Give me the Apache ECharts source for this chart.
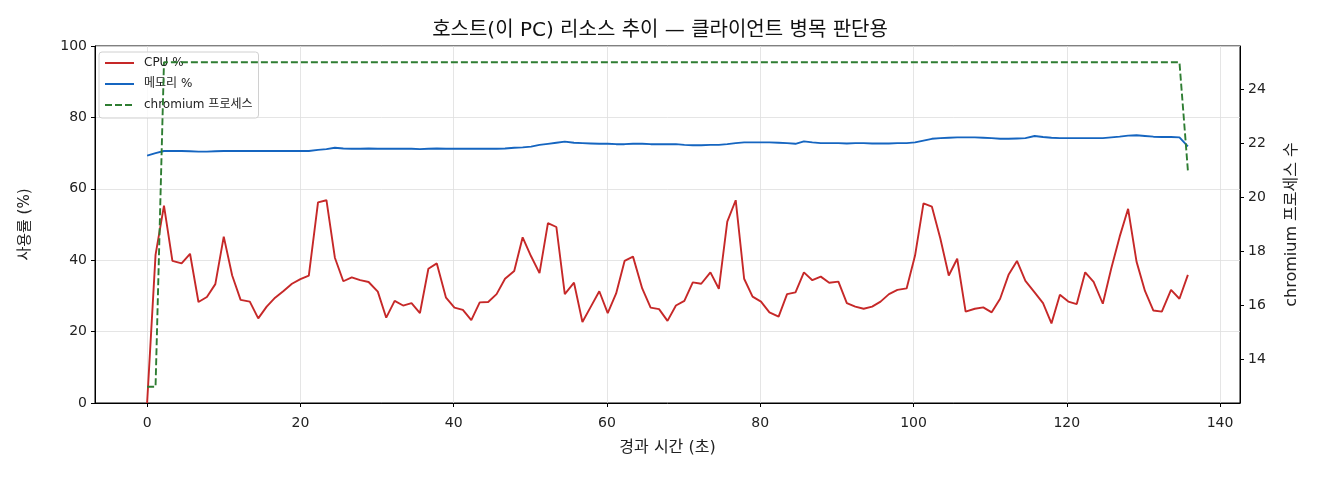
<!DOCTYPE html>
<html>
<head>
<meta charset="utf-8">
<script src="https://cdn.jsdelivr.net/npm/echarts@6/dist/echarts.min.js"></script>
<style>
    html, body { margin: 0; padding: 0; background: #fff; }
    #container { width: 1320px; height: 480px; }
</style>
</head>
<body>
<div id="container"></div>
<script>
// 경과 시간 (초)
const times = [
    0, 1.1, 2.2, 3.3, 4.5, 5.6, 6.7, 7.8, 8.9, 10.0, 11.1, 12.2, 13.4, 14.5, 15.6, 16.7, 17.8, 18.9, 20.0, 21.1,
    22.3, 23.4, 24.5, 25.6, 26.7, 27.8, 28.9, 30.1, 31.2, 32.3, 33.4, 34.5, 35.6, 36.7, 37.8, 39.0, 40.1, 41.2, 42.3, 43.4,
    44.5, 45.6, 46.7, 47.9, 49.0, 50.1, 51.2, 52.3, 53.4, 54.5, 55.7, 56.8, 57.9, 59.0, 60.1, 61.2, 62.3, 63.4, 64.6, 65.7,
    66.8, 67.9, 69.0, 70.1, 71.2, 72.3, 73.5, 74.6, 75.7, 76.8, 77.9, 79.0, 80.1, 81.2, 82.4, 83.5, 84.6, 85.7, 86.8, 87.9,
    89.0, 90.2, 91.3, 92.4, 93.5, 94.6, 95.7, 96.8, 97.9, 99.1, 100.2, 101.3, 102.4, 103.5, 104.6, 105.7, 106.8, 108.0, 109.1, 110.2,
    111.3, 112.4, 113.5, 114.6, 115.8, 116.9, 118.0, 119.1, 120.2, 121.3, 122.4, 123.5, 124.7, 125.8, 126.9, 128.0, 129.1, 130.2, 131.3, 132.4,
    133.6, 134.7, 135.8
];
const cpu = [
    0, 41.5, 55.3, 39.8, 39.1, 41.8, 28.3, 29.7, 33.3, 46.6, 35.7, 28.9, 28.4, 23.7, 27.0, 29.5, 31.4, 33.4, 34.7, 35.7,
    56.2, 56.8, 40.7, 34.1, 35.2, 34.4, 33.9, 31.2, 23.9, 28.6, 27.3, 28.0, 25.2, 37.6, 39.1, 29.5, 26.7, 26.1, 23.2, 28.2,
    28.3, 30.5, 34.8, 37.0, 46.4, 41.1, 36.4, 50.4, 49.3, 30.5, 33.7, 22.7, 27.0, 31.3, 25.2, 30.7, 39.8, 41.0, 32.1, 26.7,
    26.3, 23.0, 27.3, 28.6, 33.8, 33.4, 36.6, 32.0, 50.8, 56.8, 34.8, 29.8, 28.4, 25.4, 24.2, 30.5, 31.0, 36.6, 34.4, 35.4,
    33.7, 34.0, 28.0, 27.0, 26.4, 27.0, 28.4, 30.5, 31.7, 32.1, 41.3, 55.9, 55.0, 46.1, 35.7, 40.4, 25.6, 26.4, 26.8, 25.4,
    29.2, 35.9, 39.8, 34.2, 31.0, 28.0, 22.3, 30.3, 28.4, 27.7, 36.6, 33.9, 27.8, 37.7, 46.6, 54.4, 39.6, 31.4, 25.9, 25.6,
    31.7, 29.2, 35.9
];
const memory = [
    69.3, 70.0, 70.6, 70.6, 70.6, 70.5, 70.4, 70.4, 70.5, 70.6, 70.6, 70.6, 70.6, 70.6, 70.6, 70.6, 70.6, 70.6, 70.6, 70.6,
    70.9, 71.1, 71.5, 71.3, 71.2, 71.2, 71.3, 71.2, 71.2, 71.2, 71.2, 71.2, 71.1, 71.2, 71.3, 71.2, 71.2, 71.2, 71.2, 71.2,
    71.2, 71.2, 71.3, 71.5, 71.6, 71.8, 72.3, 72.6, 72.9, 73.2, 72.9, 72.8, 72.7, 72.6, 72.6, 72.5, 72.5, 72.6, 72.6, 72.5,
    72.5, 72.5, 72.5, 72.3, 72.2, 72.2, 72.3, 72.3, 72.5, 72.8, 73.0, 73.0, 73.0, 73.0, 72.9, 72.8, 72.6, 73.3, 73.0, 72.8,
    72.8, 72.8, 72.7, 72.8, 72.8, 72.7, 72.7, 72.7, 72.8, 72.8, 73.0, 73.5, 74.0, 74.2, 74.3, 74.4, 74.4, 74.4, 74.3, 74.2,
    74.0, 74.0, 74.1, 74.2, 74.8, 74.5, 74.3, 74.2, 74.2, 74.2, 74.2, 74.2, 74.2, 74.4, 74.6, 74.9, 75.0, 74.8, 74.6, 74.5,
    74.5, 74.4, 71.9
];
const chromium = [
    13, 13, 25, 25, 25, 25, 25, 25, 25, 25, 25, 25, 25, 25, 25, 25, 25, 25, 25, 25,
    25, 25, 25, 25, 25, 25, 25, 25, 25, 25, 25, 25, 25, 25, 25, 25, 25, 25, 25, 25,
    25, 25, 25, 25, 25, 25, 25, 25, 25, 25, 25, 25, 25, 25, 25, 25, 25, 25, 25, 25,
    25, 25, 25, 25, 25, 25, 25, 25, 25, 25, 25, 25, 25, 25, 25, 25, 25, 25, 25, 25,
    25, 25, 25, 25, 25, 25, 25, 25, 25, 25, 25, 25, 25, 25, 25, 25, 25, 25, 25, 25,
    25, 25, 25, 25, 25, 25, 25, 25, 25, 25, 25, 25, 25, 25, 25, 25, 25, 25, 25, 25,
    25, 25, 21
];
const xTicks = [0, 20, 40, 60, 80, 100, 120, 140];
const rightTicks = [14, 16, 18, 20, 22, 24];

// 라틴 문자는 DejaVu, 한글은 Noto CJK 로 대체됨
const FONT = '"DejaVu Sans", "Noto Sans CJK KR", sans-serif';
const GRID_LINE = { show: true, lineStyle: { color: '#dedede', width: 0.8 } };
const AXIS_LINE = { show: true, onZero: false, lineStyle: { color: '#000' } };

function pairs(ys) {
    return times.map((t, i) => [t, ys[i]]);
}

const chart = echarts.init(document.getElementById('container'), null, { renderer: 'canvas' });

chart.setOption({
    animation: false,
    backgroundColor: '#fff',
    textStyle: { fontFamily: FONT },
    title: {
        text: '호스트(이 PC) 리소스 추이 — 클라이언트 병목 판단용',
        left: 'center',
        top: 16,
        textStyle: { fontFamily: FONT, fontSize: 20, fontWeight: 'normal', color: '#111' }
    },
    grid: {
        left: 95, right: 80, top: 46, bottom: 77,
        show: true, borderColor: '#000', borderWidth: 1, backgroundColor: 'transparent'
    },
    legend: {
        orient: 'vertical',
        left: 99, top: 52,
        z: 1,
        itemWidth: 29, itemHeight: 14, itemGap: 9,
        padding: [5, 6, 7, 5],
        backgroundColor: 'rgba(255,255,255,0.8)',
        borderColor: '#d0d0d0', borderWidth: 1, borderRadius: 3,
        itemStyle: { opacity: 0 },
        textStyle: { fontFamily: FONT, fontSize: 12, color: '#222', padding: [0, 0, 0, 5] },
        data: ['CPU %', '메모리 %', 'chromium 프로세스']
    },
    xAxis: {
        type: 'value',
        min: -6.8, max: 142.6,
        name: '경과 시간 (초)',
        nameLocation: 'middle',
        nameGap: 37,
        nameTextStyle: { fontFamily: FONT, fontSize: 16, color: '#222' },
        axisLine: AXIS_LINE,
        axisTick: { show: true, length: 4, lineStyle: { color: '#000' }, customValues: xTicks },
        axisLabel: { fontFamily: FONT, fontSize: 14, color: '#222', margin: 13, customValues: xTicks },
        splitLine: GRID_LINE
    },
    yAxis: [{
        type: 'value',
        min: 0, max: 100, interval: 20,
        position: 'left',
        name: '사용률 (%)',
        nameLocation: 'middle',
        nameGap: 62,
        nameTextStyle: { fontFamily: FONT, fontSize: 15, color: '#222' },
        axisLine: AXIS_LINE,
        axisTick: { show: true, length: 4, lineStyle: { color: '#000' } },
        axisLabel: { fontFamily: FONT, fontSize: 14, color: '#222', margin: 8 },
        splitLine: GRID_LINE
    }, {
        type: 'value',
        min: 12.4, max: 25.6,
        position: 'right',
        name: 'chromium 프로세스 수',
        nameLocation: 'middle',
        nameGap: 44,
        nameTextStyle: { fontFamily: FONT, fontSize: 16, color: '#222' },
        axisLine: AXIS_LINE,
        axisTick: { show: true, length: 4, lineStyle: { color: '#000' }, customValues: rightTicks },
        axisLabel: { fontFamily: FONT, fontSize: 14, color: '#222', margin: 8, customValues: rightTicks },
        splitLine: { show: false }
    }],
    series: [{
        name: 'CPU %',
        type: 'line',
        data: pairs(cpu),
        symbol: 'none',
        color: '#c62828',
        lineStyle: { width: 1.9, color: '#c62828' }
    }, {
        name: '메모리 %',
        type: 'line',
        data: pairs(memory),
        symbol: 'none',
        color: '#1565c0',
        lineStyle: { width: 1.9, color: '#1565c0' }
    }, {
        name: 'chromium 프로세스',
        type: 'line',
        yAxisIndex: 1,
        data: pairs(chromium),
        symbol: 'none',
        color: '#2e7d32',
        z: 5,
        lineStyle: { width: 1.9, color: '#2e7d32', type: [7, 3] }
    }]
});
</script>
</body>
</html>
